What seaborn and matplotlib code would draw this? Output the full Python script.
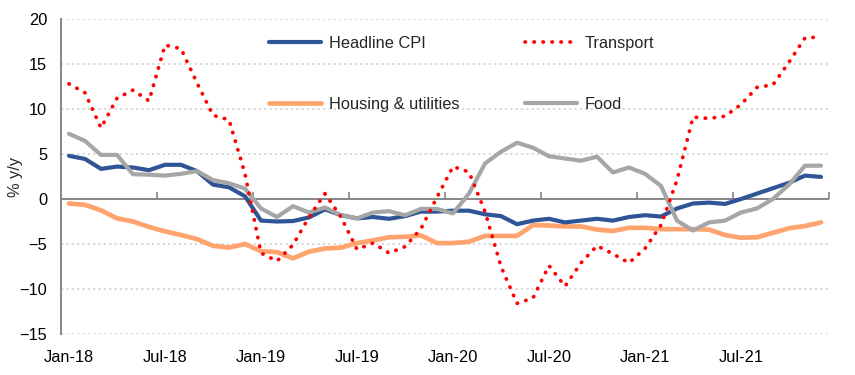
import numpy as np
import pandas as pd
import matplotlib
matplotlib.use("Agg")
import matplotlib.pyplot as plt
import seaborn as sns

# Monthly data, Jan-18 .. Dec-21 (% y/y)
months = pd.date_range("2018-01-01", "2021-12-01", freq="MS")
tick_labels = ["Jan-18", "Jul-18", "Jan-19", "Jul-19", "Jan-20", "Jul-20", "Jan-21", "Jul-21"]

headline = [4.8, 4.45, 3.35, 3.6, 3.5, 3.2, 3.8, 3.8, 3.1, 1.6, 1.3, 0.3,
            -2.4, -2.5, -2.45, -2.05, -1.15, -1.8, -2.15, -2.0, -2.2, -1.9, -1.4, -1.4,
            -1.3, -1.3, -1.7, -1.9, -2.8, -2.4, -2.2, -2.6, -2.4, -2.2, -2.4, -2.0,
            -1.8, -1.95, -1.05, -0.5, -0.4, -0.55, 0.0, 0.6, 1.2, 1.8, 2.6, 2.45]
transport = [12.8, 11.8, 7.9, 11.2, 12.1, 10.9, 17.1, 16.7, 12.9, 9.3, 8.8, 2.8,
             -6.0, -6.9, -5.1, -2.0, 0.6, -2.0, -5.6, -4.9, -6.0, -5.3, -3.3, 0.2,
             3.6, 3.0, -1.4, -7.5, -11.6, -11.0, -7.4, -9.7, -7.1, -5.2, -6.1, -7.1,
             -5.5, -2.9, 2.1, 9.1, 8.95, 9.2, 10.5, 12.4, 12.7, 15.2, 17.9, 18.0]
housing = [-0.5, -0.65, -1.25, -2.15, -2.5, -3.1, -3.6, -4.0, -4.45, -5.2, -5.4, -5.0,
           -5.8, -5.9, -6.6, -5.85, -5.5, -5.4, -4.9, -4.6, -4.25, -4.2, -4.05, -4.9,
           -4.9, -4.75, -4.1, -4.1, -4.1, -2.9, -2.95, -3.05, -3.05, -3.4, -3.55, -3.2,
           -3.2, -3.35, -3.35, -3.35, -3.4, -4.0, -4.3, -4.25, -3.75, -3.25, -3.0, -2.6]
food = [7.25, 6.45, 4.9, 4.9, 2.75, 2.7, 2.6, 2.8, 3.1, 2.1, 1.75, 1.15,
        -1.05, -2.0, -0.8, -1.5, -0.95, -1.8, -2.15, -1.5, -1.35, -1.8, -1.1, -1.1,
        -1.6, 0.6, 3.95, 5.25, 6.25, 5.7, 4.75, 4.5, 4.25, 4.7, 2.95, 3.5,
        2.8, 1.45, -2.4, -3.5, -2.6, -2.4, -1.5, -1.05, 0.0, 1.6, 3.7, 3.7]

df = pd.DataFrame({
    "idx": np.arange(len(months)),
    "Headline CPI": headline,
    "Transport": transport,
    "Housing & utilities": housing,
    "Food": food,
})

sns.set_style("white")
plt.rcParams["font.family"] = ["Liberation Sans", "DejaVu Sans"]
FS = 11.8

fig = plt.figure(figsize=(8.55, 3.75), dpi=100)
ax = fig.add_axes([61 / 855, 1 - 334 / 375, (829 - 61) / 855, (334 - 19) / 375])

ax.axhline(0, color="#868686", lw=1.4, zorder=1)

sns.lineplot(data=df, x="idx", y="Headline CPI", ax=ax, color="#2f5597", lw=3.0,
             label="Headline CPI", zorder=3)
sns.lineplot(data=df, x="idx", y="Transport", ax=ax, color="#ff0000", lw=2.7,
             label="Transport", zorder=4,
             linestyle=(0, (0.1, 2.3)), dash_capstyle="round")
sns.lineplot(data=df, x="idx", y="Housing & utilities", ax=ax, color="#ffa46f", lw=3.4,
             label="Housing & utilities", zorder=2)
sns.lineplot(data=df, x="idx", y="Food", ax=ax, color="#a6a6a6", lw=3.0,
             label="Food", zorder=3)

ax.set_xlim(-0.5, len(months) - 0.5)
ax.set_ylim(-15, 20)
ax.set_yticks(np.arange(-15, 21, 5))
ax.set_xticks(np.arange(0, len(months), 6))
ax.set_xticklabels(tick_labels)
ax.tick_params(axis="both", length=0, labelsize=FS, colors="black")
ax.tick_params(axis="y", pad=10)
ax.tick_params(axis="x", pad=11.5)
ax.set_xlabel("")
ax.set_ylabel("% y/y", fontsize=FS)
ax.yaxis.set_label_coords(-0.049, 0.5)

ax.yaxis.grid(True, color="#d0d0d0", linestyle=(0, (1.5, 2.0)), lw=1.1)
ax.xaxis.grid(False)
for side in ["top", "right", "bottom"]:
    ax.spines[side].set_visible(False)
ax.spines["left"].set_color("#868686")
ax.spines["left"].set_linewidth(1.4)

# tick marks on the zero line, between categories
sec = ax.secondary_xaxis(15 / 35)
sec.set_xticks(np.arange(5.5, len(months), 6))
sec.tick_params(axis="x", direction="in", length=5, width=1.2, color="#868686",
                labelbottom=False, labeltop=False)
for sp in sec.spines.values():
    sp.set_visible(False)

h, l = ax.get_legend_handles_labels()
order = [l.index(n) for n in ["Headline CPI", "Housing & utilities", "Transport", "Food"]]
ax.legend([h[i] for i in order], [l[i] for i in order], ncol=2, frameon=False,
          fontsize=FS, loc="upper left", bbox_to_anchor=(269 / 855, 1 - 36 / 375),
          bbox_transform=fig.transFigure, borderaxespad=0, borderpad=0,
          handlelength=3.2, handletextpad=0.45, columnspacing=4.0, labelspacing=2.8)

fig.savefig("out.png", dpi=100)
